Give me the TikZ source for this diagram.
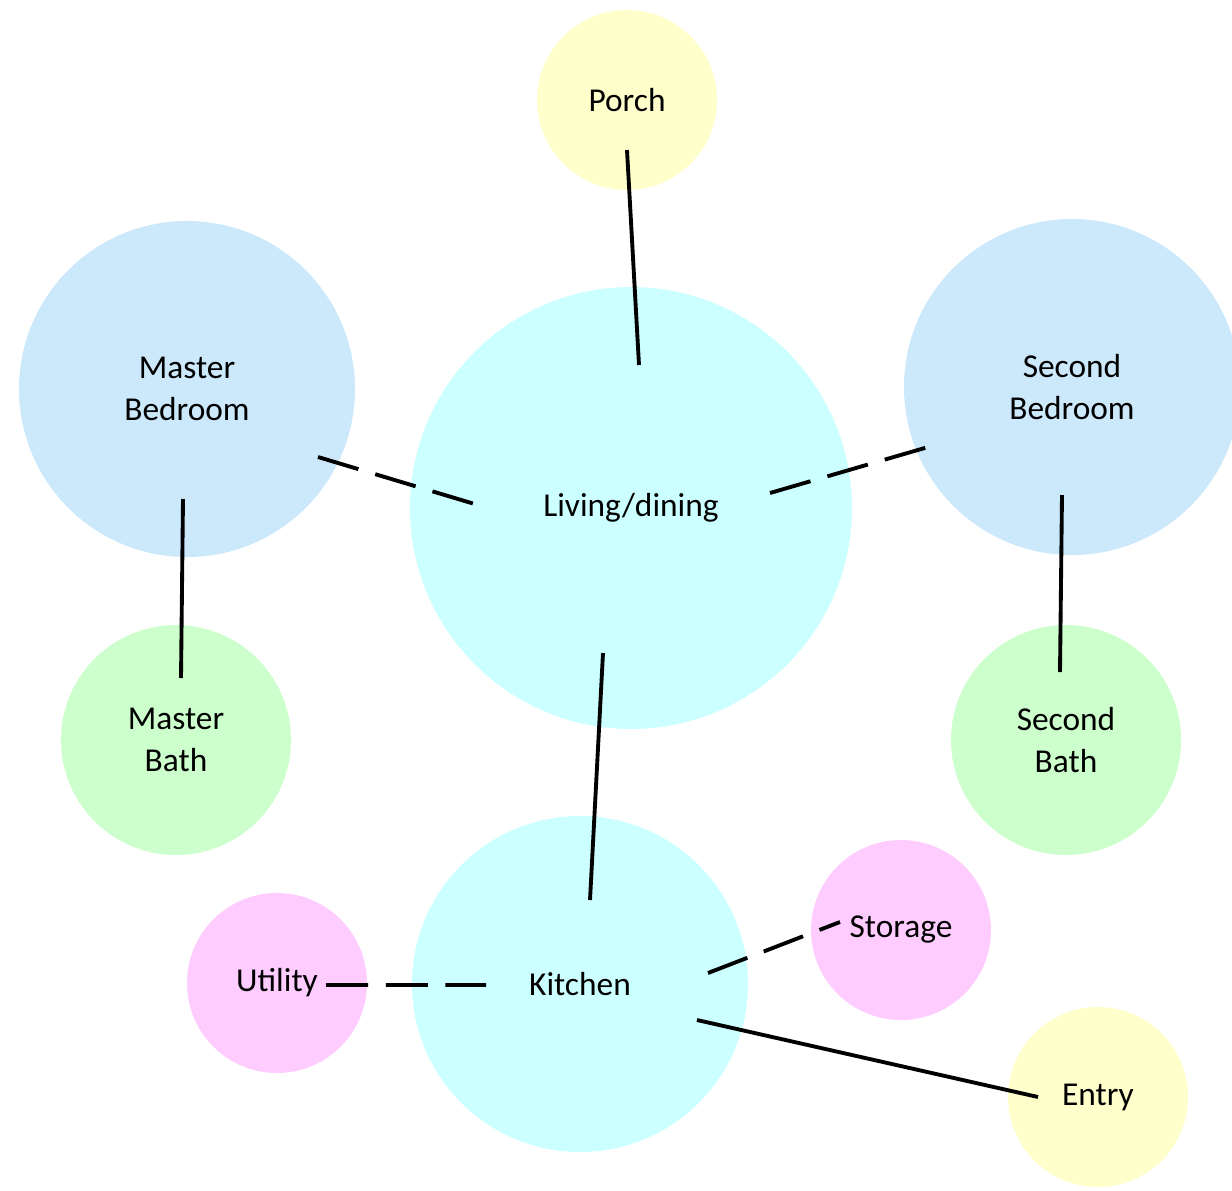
\documentclass[tikz,border=0pt]{standalone}
\usepackage{fontspec}
\setmainfont{Carlito}
\usetikzlibrary{calc}
\definecolor{porchY}{HTML}{FFFFCC}
\definecolor{livingC}{HTML}{CCFFFF}
\definecolor{bedB}{HTML}{CCE9FC}
\definecolor{bathG}{HTML}{CCFFCC}
\definecolor{utilP}{HTML}{FFCCFF}
\begin{document}
\begin{tikzpicture}[
    room/.style={circle,inner sep=0pt,align=center,font=\fontsize{19}{23.5}\selectfont},
    link/.style={line width=2.2pt},
    dlink/.style={line width=2.2pt,dash pattern=on 24pt off 10pt}]
     \useasboundingbox (0,0) rectangle (24.64,-23.8);
     \node[room,fill=porchY, minimum size=3.6cm]  (P) at ( 12.54, -2.00) {Porch};
     \node[room,fill=livingC,minimum size=8.84cm] (L) at ( 12.62,-10.16) {Living/dining};
     \node[room,fill=bedB,   minimum size=6.72cm] (MB) at ( 3.74, -7.78) {Master\\Bedroom};
     \node[room,fill=bedB,   minimum size=6.72cm] (SB) at (21.44, -7.74) {Second\\Bedroom};
     \node[room,fill=bathG,  minimum size=4.6cm]  (MT) at ( 3.52,-14.80) {Master\\Bath};
     \node[room,fill=bathG,  minimum size=4.6cm]  (ST) at (21.32,-14.80) {Second\\Bath};
     \node[room,fill=livingC,minimum size=6.72cm] (K) at ( 11.60,-19.68) {Kitchen};
     \node[room,fill=utilP,  minimum size=3.6cm]  (U) at (  5.54,-19.66) {Utility};
     \node[room,fill=utilP,  minimum size=3.6cm]  (S) at ( 18.02,-18.60) {Storage};
     \node[room,fill=porchY, minimum size=3.6cm]  (E) at ( 21.96,-21.94) {Entry};
     \draw[link]  ($(P)+(0,-1.0)$)       -- ($(L)+(0.16,2.86)$);
     \draw[dlink] ($(MB)+(2.62,-1.36)$)  -- ($(L)+(-2.86,0)$);
     \draw[dlink] ($(L)+(2.78,0.3)$)     -- ($(SB)+(-2.74,-1.16)$);
     \draw[link]  ($(MB)+(-0.08,-2.2)$)  -- ($(MT)+(0.1,1.24)$);
     \draw[link]  ($(SB)+(-0.2,-2.16)$)  -- ($(ST)+(-0.12,1.36)$);
     \draw[link]  ($(L)+(-0.56,-2.9)$)   -- ($(K)+(0.2,1.68)$);
     \draw[dlink] ($(U)+(0.98,-0.04)$)   -- ($(K)+(-1.88,-0.02)$);
     \draw[dlink] ($(K)+(2.56,0.22)$)    -- ($(S)+(-1.22,0.16)$);
     \draw[link]  ($(K)+(2.34,-0.72)$)   -- ($(E)+(-1.2,0)$);
\end{tikzpicture}
\end{document}
